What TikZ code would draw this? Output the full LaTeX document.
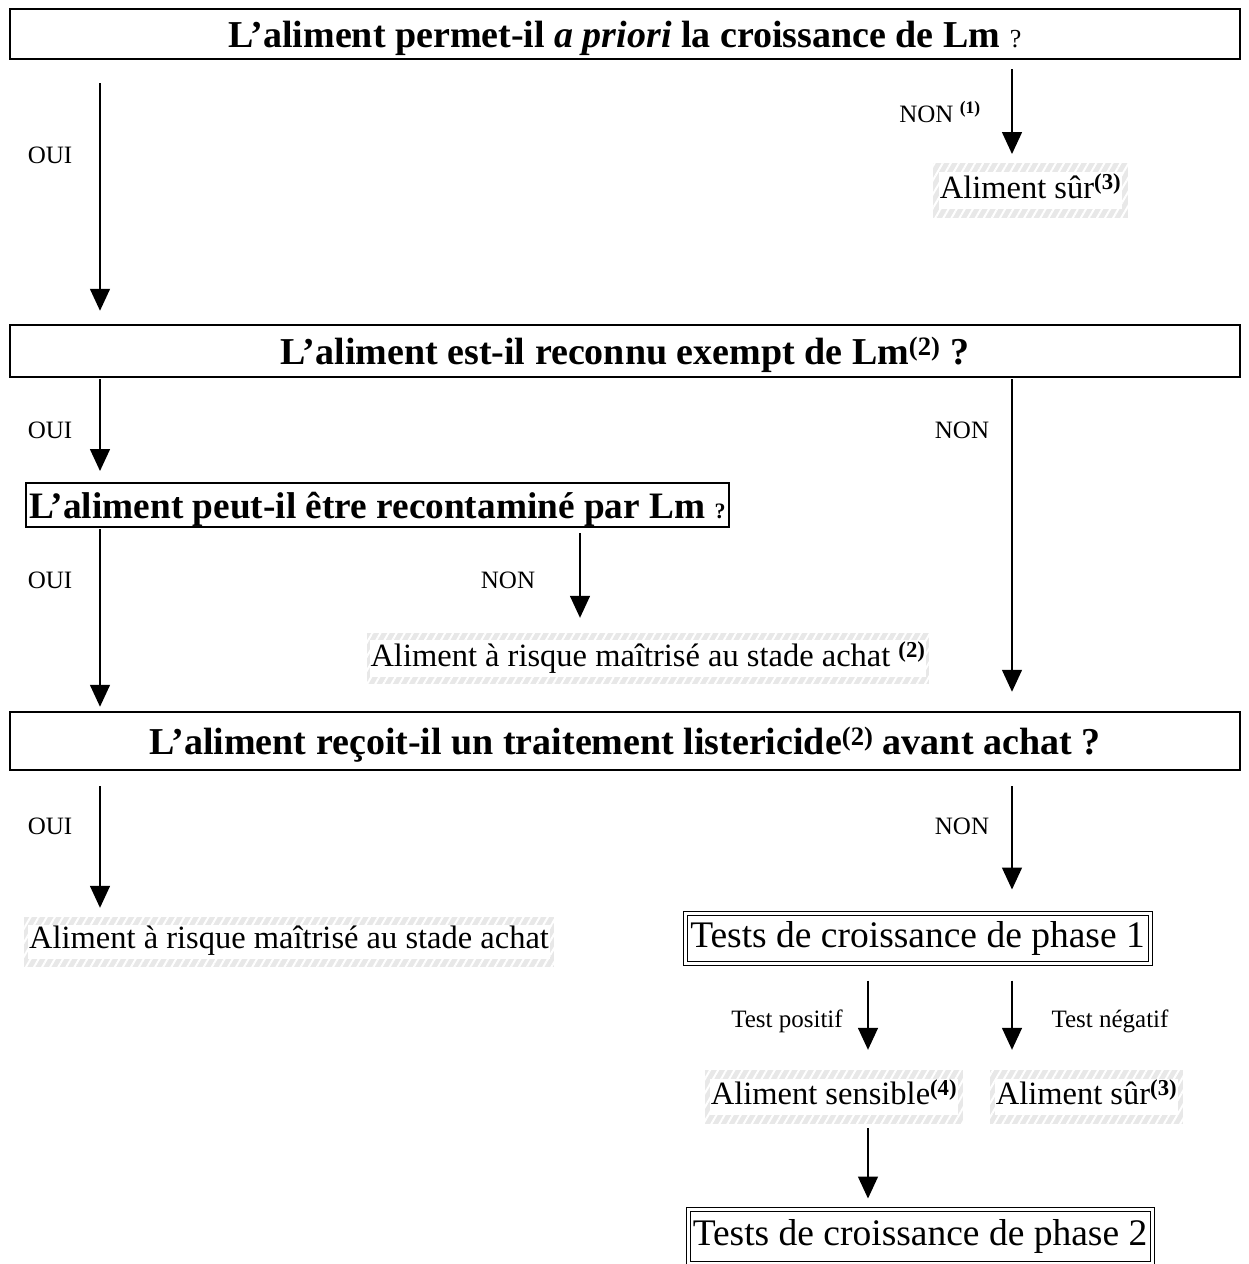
\documentclass[tikz,border=0pt]{standalone}
\usepackage{fontspec}
\setmainfont{Liberation Serif}
\usetikzlibrary{arrows.meta,patterns.meta,positioning}
\newcommand{\taille}[1]{\fontsize{#1}{#1}\selectfont}
\newcommand{\expo}[1]{\textsuperscript{\textbf{#1}}}
\newcommand{\fond}[1]{{\setlength{\fboxsep}{1pt}\colorbox{white}{\strut #1}}}
\tikzstyle{question} = [draw, line width=2.5pt, rectangle, inner sep=0pt, text height=27pt, text depth=0pt, font=\taille{38}\bfseries]
\tikzstyle{hachure} = [preaction={fill=gray!18}, pattern={Lines[angle=60,distance=7pt,line width=2pt]}, pattern color=white, rectangle, inner sep=0pt, font=\taille{32.5}]
\tikzstyle{phase} = [draw, double, double distance=3pt, line width=1pt, rectangle, inner sep=0pt, font=\taille{37.5}]
\tikzstyle{reponse} = [font=\taille{25}]
\tikzstyle{fleche} = [line width=1.5pt, -{Triangle[width=20pt,length=22pt]}]

\begin{document}
\begin{tikzpicture}[x=1pt,y=-1pt]
\useasboundingbox (0,0) rectangle (1249,1264);
% questions
\node[question, minimum width=1230, minimum height=50] (q1) at (625,34)
  {L'aliment permet-il \textit{a priori} la croissance de Lm {\mdseries\taille{26}?}};
\node[question, minimum width=1230, minimum height=52] (q2) at (625,351)
  {L'aliment est-il reconnu exempt de Lm\textsuperscript{(2)} ?};
\node[question, line width=2pt, minimum width=703, minimum height=44, font=\taille{37.3}\bfseries] (q3) at (377.5,505)
  {L'aliment peut-il être recontaminé par Lm {\taille{22}?}};
\node[question, minimum width=1230, minimum height=58] (q4) at (625,741)
  {L'aliment reçoit-il un traitement listericide\textsuperscript{(2)} avant achat ?};
% issues
\node[hachure, minimum width=195, minimum height=55] (sur1) at (1030.5,190.5) {\fond{Aliment sûr\expo{(3)}}};
\node[hachure, minimum width=562, minimum height=51] (risque1) at (648,658.5) {\fond{Aliment à risque maîtrisé au stade achat \expo{(2)}}};
\node[hachure, minimum width=530, minimum height=50] (risque2) at (289,942) {\fond{Aliment à risque maîtrisé au stade achat}};
\node[phase, minimum width=465, minimum height=50] (phase1) at (917.5,938) {Tests de croissance de phase 1};
\node[hachure, minimum width=258, minimum height=54] (sensible) at (834,1097) {\fond{Aliment sensible\expo{(4)}}};
\node[hachure, minimum width=193, minimum height=54] (sur2) at (1086.5,1097) {\fond{Aliment sûr\expo{(3)}}};
\node[phase, minimum width=464, minimum height=54] (phase2) at (920,1236) {Tests de croissance de phase 2};
% colonnes des fleches
\coordinate (cg) at (100,0);
\coordinate (cd) at (1012,0);
\coordinate (cm) at (580,0);
\coordinate (cp) at (868,0);
\draw[fleche, shorten <=23pt, shorten >=13pt] (q1.south -| cg) -- (q2.north -| cg);
\draw[fleche, shorten <=9pt, shorten >=8pt] (q1.south -| cd) -- (sur1.north -| cd);
\draw[fleche, shorten <=1pt, shorten >=11pt] (q2.south -| cg) -- (q3.north -| cg);
\draw[fleche, shorten <=1pt, shorten >=19pt] (q2.south -| cd) -- (q4.north -| cd);
\draw[fleche, shorten <=1pt, shorten >=4pt] (q3.south -| cg) -- (q4.north -| cg);
\draw[fleche, shorten <=5pt, shorten >=15pt] (q3.south -| cm) -- (risque1.north -| cm);
\draw[fleche, shorten <=15pt, shorten >=9pt] (q4.south -| cg) -- (risque2.north -| cg);
\draw[fleche, shorten <=15pt, shorten >=23pt] (q4.south -| cd) -- (phase1.north -| cd);
\draw[fleche, shorten <=17pt, shorten >=20pt] (phase1.south -| cp) -- (sensible.north -| cp);
\draw[fleche, shorten <=17pt, shorten >=20pt] (phase1.south -| cd) -- (sur2.north -| cd);
\draw[fleche, shorten <=4pt, shorten >=10pt] (sensible.south -| cp) -- (phase2.north -| cp);
% reponses
\node[reponse] (oui1) at (50,155) {OUI};
\node[reponse] (non1) at (940,112) {NON \expo{(1)}};
\node[reponse] (oui2) at (50,430) {OUI};
\node[reponse] (non2) at (962,430) {NON};
\node[reponse] (oui3) at (50,580) {OUI};
\node[reponse] (non3) at (508,580) {NON};
\node[reponse] (oui4) at (50,826) {OUI};
\node[reponse] (non4) at (962,826) {NON};
\node[reponse] (pos) at (787,1021) {Test positif};
\node[reponse] (neg) at (1110,1021) {Test négatif};
\end{tikzpicture}
\end{document}
